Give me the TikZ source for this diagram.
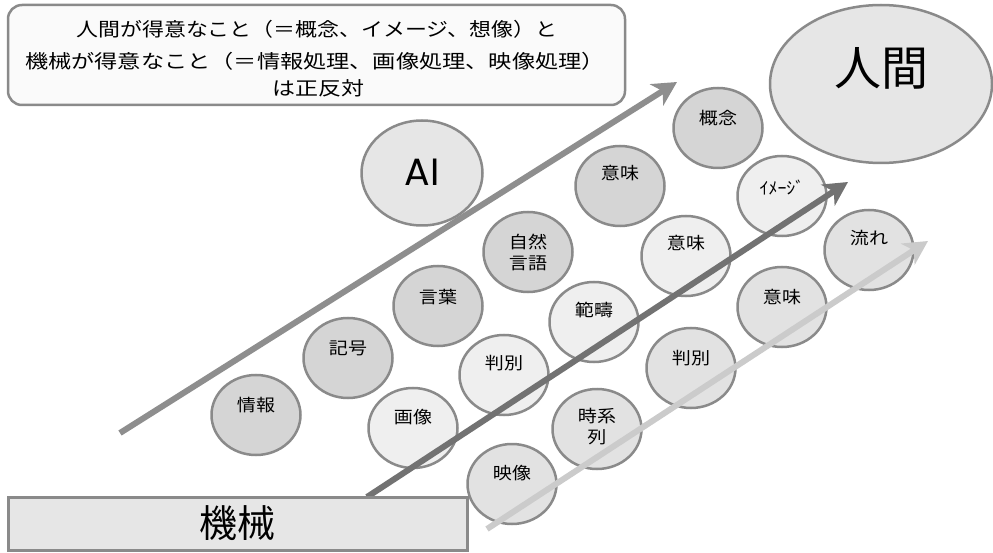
\documentclass[tikz,border=0pt]{standalone}
\usepackage{fontspec}
\usepackage{graphicx}
\newfontfamily\jp{Noto Sans CJK JP}
\newfontfamily\lat{Poppins}
\usetikzlibrary{shapes.geometric,arrows.meta}
\definecolor{bordergray}{HTML}{8A8A8A}
\definecolor{fillDark}{HTML}{D5D5D5}
\definecolor{fillLight}{HTML}{EFEFEF}
\definecolor{fillMid}{HTML}{E2E2E2}
\definecolor{fillBig}{HTML}{E6E6E6}
\definecolor{hdrFill}{HTML}{FAFAFA}
\definecolor{arrA}{HTML}{8E8E8E}
\definecolor{arrB}{HTML}{727272}
\definecolor{arrC}{HTML}{CBCBCB}
\newcommand{\hsc}[1]{\scalebox{1.12}[1]{#1}}
\newcommand{\fitw}[2]{\resizebox{#1}{\height}{#2}}
\newcommand{\bub}[5]{%
  \node[bubble,#3] (#1) at (#2) {};
  \node[btext] (#1t) at ([yshift=#5pt]#1.center) {#4};}
\begin{document}
\begin{tikzpicture}[x=1pt,y=-1pt,
  bubble/.style={ellipse,draw=bordergray,line width=2.5pt,inner sep=0pt,
    minimum width=89pt,minimum height=80pt},
  dk/.style={fill=fillDark},
  lt/.style={fill=fillLight},
  md/.style={fill=fillMid},
  btext/.style={font=\jp\fontsize{17}{21}\selectfont,inner sep=0pt,align=center},
  hdrtext/.style={font=\jp\fontsize{19}{23}\selectfont,inner sep=0pt},
  arrbase/.style={line width=6pt,-{Stealth[length=24pt,width=25pt,inset=7pt]}}
]
\useasboundingbox (0,0) rectangle (993,553);

% header box
\node[draw=bordergray,fill=hdrFill,rounded corners=14pt,line width=2.5pt,
  minimum width=617pt,minimum height=100pt,inner sep=0pt] (hdr) at (316.5,55) {};
\node[hdrtext] (hl1) at (317,29) {\fitw{481pt}{人間が得意なこと（＝概念、イメージ、想像）と}};
\node[hdrtext] (hl2) at (315,61) {\fitw{580pt}{機械が得意なこと（＝情報処理、画像処理、映像処理）}};
\node[hdrtext] (hl3) at (318,88) {\fitw{92pt}{は正反対}};

% big ellipses
\node[bubble,fill=fillBig,minimum width=222pt,minimum height=158pt] (human) at (881,84) {};
\node[font=\jp\fontsize{47}{50}\selectfont,inner sep=0pt] (humant) at ([yshift=16pt]human.center) {人間};
\node[bubble,fill=fillBig,minimum width=121pt,minimum height=105pt] (ai) at (422,173) {};
\node[font=\lat\fontsize{38}{40}\selectfont,inner sep=0pt] (ait) at (422,172) {AI};

% bubbles: dark row
\bub{b1}{256,415}{dk}{\hsc{情報}}{10}
\bub{b2}{348,358}{dk}{\hsc{記号}}{10}
\bub{b3}{438,306}{dk}{\hsc{言葉}}{9}
\bub{b4}{528,252}{dk}{\hsc{自然}\\\hsc{言語}}{0}
\bub{b5}{620,186}{dk}{\hsc{意味}}{13}
\bub{b6}{718,128}{dk}{\hsc{概念}}{10}
% light row
\bub{c1}{413,428}{lt}{\hsc{画像}}{11}
\bub{c2}{504,375}{lt}{\hsc{判別}}{12}
\bub{c3}{594,322}{lt}{\hsc{範疇}}{12}
\bub{c4}{686,256}{lt}{\hsc{意味}}{13}
\bub{c5}{782,196}{lt}{\scalebox{1.05}[1]{ｲﾒｰｼﾞ}}{8}
% medium row
\bub{d1}{512,484}{md}{\hsc{映像}}{11}
\bub{d2}{597,429}{md}{\hsc{時系}\\\hsc{列}}{2}
\bub{d3}{691,368}{md}{\hsc{判別}}{10}
\bub{d4}{782,307}{md}{\hsc{意味}}{10}
\bub{d5}{869,250}{md}{\hsc{流れ}}{12}

% arrows
\coordinate (a1s) at (120,433);
\coordinate (a1e) at (677,82);
\coordinate (a2s) at (367,497);
\coordinate (a2e) at (848,182);
\coordinate (a3s) at (487,529);
\coordinate (a3e) at (928,241);
\draw[arrbase,draw=arrA,fill=arrA] (a1s) -- (a1e);
\draw[arrbase,draw=arrB,fill=arrB] (a2s) -- (a2e);
\draw[arrbase,draw=arrC,fill=arrC] (a3s) -- (a3e);

% machine box
\node[draw=bordergray,fill=fillBig,line width=3pt,minimum width=459pt,
  minimum height=53pt,inner sep=0pt,font=\jp\fontsize{38}{40}\selectfont] (machine) at (237.5,523.5) {機械};
\end{tikzpicture}
\end{document}
